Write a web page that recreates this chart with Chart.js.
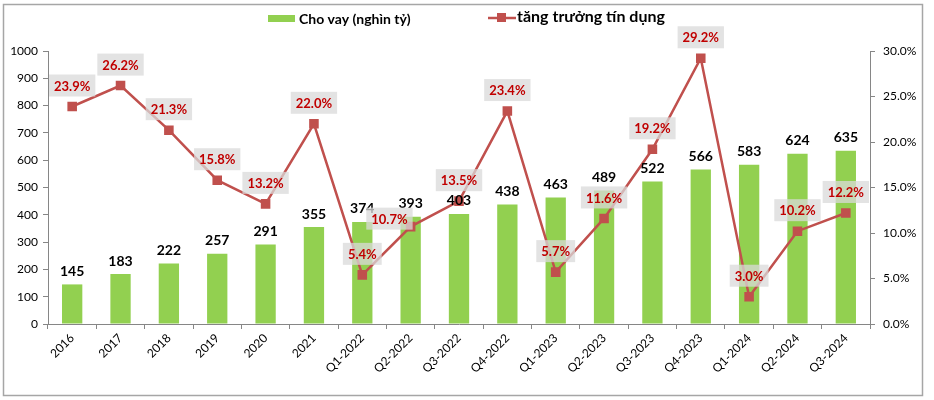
<!DOCTYPE html>
<html>
<head>
<meta charset="utf-8">
<script src="https://cdn.jsdelivr.net/npm/chart.js@4.4.1/dist/chart.umd.min.js"></script>
<style>
  html, body { margin: 0; padding: 0; background: #fff; }
  #wrap { width: 934px; height: 400px; position: relative; }
</style>
</head>
<body>
<div id="wrap"><canvas id="chart" width="934" height="400"></canvas></div>
<script>
// ===== DỮ LIỆU =====
const nhan = ['2016', '2017', '2018', '2019', '2020', '2021',
  'Q1-2022', 'Q2-2022', 'Q3-2022', 'Q4-2022',
  'Q1-2023', 'Q2-2023', 'Q3-2023', 'Q4-2023',
  'Q1-2024', 'Q2-2024', 'Q3-2024'];
const choVay = [145, 183, 222, 257, 291, 355, 374, 393, 403, 438, 463, 489, 522, 566, 583, 624, 635];
const tangTruong = [23.9, 26.2, 21.3, 15.8, 13.2, 22.0, 5.4, 10.7, 13.5, 23.4, 5.7, 11.6, 19.2, 29.2, 3.0, 10.2, 12.2];
const tenChoVay = 'Cho vay (nghìn tỷ)';
const tenTangTruong = 'tăng trưởng tín dụng';

const XANH = '#92D050';
const DO = '#C0504D';
const FONT = 'Lato, "Open Sans", sans-serif';

// khung + chú thích vẽ tay
const khungPlugin = {
  id: 'khung',
  beforeDraw(chart) {
    const ctx = chart.ctx;
    ctx.save();
    ctx.fillStyle = '#fff';
    ctx.fillRect(0, 0, chart.width, chart.height);
    ctx.strokeStyle = '#A6A6A6';
    ctx.lineWidth = 1.5;
    ctx.strokeRect(3.5, 4.5, 919, 391);
    ctx.restore();
  },
  afterDraw(chart) {
    const ctx = chart.ctx;
    ctx.save();
    ctx.textBaseline = 'middle';
    ctx.font = 'bold 14px ' + FONT;
    ctx.fillStyle = XANH;
    ctx.fillRect(268, 15, 27, 7);
    ctx.fillStyle = '#000';
    ctx.fillText(tenChoVay, 299, 19);
    ctx.strokeStyle = DO;
    ctx.lineWidth = 2.5;
    ctx.beginPath(); ctx.moveTo(488, 18); ctx.lineTo(516, 18); ctx.stroke();
    ctx.fillStyle = DO;
    ctx.fillRect(497, 13, 9, 9);
    ctx.fillStyle = '#000';
    ctx.font = 'bold 16px ' + FONT;
    ctx.fillText(tenTangTruong, 517, 17);
    ctx.restore();
  }
};

// nhãn dữ liệu
const nhanDuLieuPlugin = {
  id: 'nhanDuLieu',
  afterDatasetsDraw(chart) {
    const ctx = chart.ctx;
    ctx.save();
    ctx.textAlign = 'center';
    ctx.textBaseline = 'middle';
    const cot = chart.getDatasetMeta(1);
    ctx.font = 'bold 14px ' + FONT;
    ctx.fillStyle = '#000';
    cot.data.forEach((el, i) => {
      ctx.fillText(String(choVay[i]), el.x, el.y - 13);
    });
    const duong = chart.getDatasetMeta(0);
    ctx.font = 'bold 13px ' + FONT;
    duong.data.forEach((el, i) => {
      const t = tangTruong[i].toFixed(1) + '%';
      const w = ctx.measureText(t).width + 10;
      let cx = el.x, cy = el.y - 21;
      // nhãn Q2-2022 nằm bên trái điểm (tránh đè nhãn cột)
      if (i === 7) { cx = el.x - w / 2 + 2; cy = el.y - 8; }
      ctx.fillStyle = 'rgba(217,217,217,0.75)';
      ctx.fillRect(cx - w / 2, cy - 11, w, 22);
      ctx.fillStyle = '#C00000';
      ctx.fillText(t, cx, cy + 1);
    });
    ctx.restore();
  }
};

new Chart(document.getElementById('chart'), {
  data: {
    labels: nhan,
    datasets: [
      {
        type: 'line',
        label: tenTangTruong,
        data: tangTruong,
        yAxisID: 'y2',
        borderColor: DO,
        backgroundColor: DO,
        borderWidth: 2.5,
        pointStyle: 'rect',
        pointRadius: 5,
        pointBackgroundColor: DO,
        pointBorderColor: DO,
        order: 0
      },
      {
        type: 'bar',
        label: tenChoVay,
        data: choVay,
        yAxisID: 'y',
        backgroundColor: XANH,
        categoryPercentage: 1,
        barPercentage: 0.42,
        order: 1
      }
    ]
  },
  options: {
    responsive: false,
    animation: false,
    layout: { padding: { top: 51, right: 0, left: 0, bottom: 0 } },
    plugins: { legend: { display: false }, tooltip: { enabled: false } },
    scales: {
      x: {
        offset: true,
        grid: { offset: true, drawOnChartArea: false, tickLength: 5, color: '#868686' },
        border: { color: '#868686' },
        ticks: { color: '#000', font: { family: FONT, size: 12 }, maxRotation: 45, minRotation: 45, padding: 2 },
        afterFit(s) { s.height = 76; }
      },
      y: {
        position: 'left',
        min: 0, max: 1000,
        ticks: { stepSize: 100, color: '#000', font: { family: FONT, size: 12 }, padding: 5,
          callback: v => String(v) },
        grid: { drawOnChartArea: false, tickLength: 5, color: '#868686' },
        border: { color: '#868686' },
        afterFit(s) { s.width = 48; }
      },
      y2: {
        position: 'right',
        min: 0, max: 30,
        ticks: { stepSize: 5, color: '#000', font: { family: FONT, size: 12 }, padding: 8,
          callback: v => v.toFixed(1) + '%' },
        grid: { drawOnChartArea: false, tickLength: 5, color: '#868686' },
        border: { color: '#868686' },
        afterFit(s) { s.width = 64; }
      }
    }
  },
  plugins: [khungPlugin, nhanDuLieuPlugin]
});
</script>
</body>
</html>
